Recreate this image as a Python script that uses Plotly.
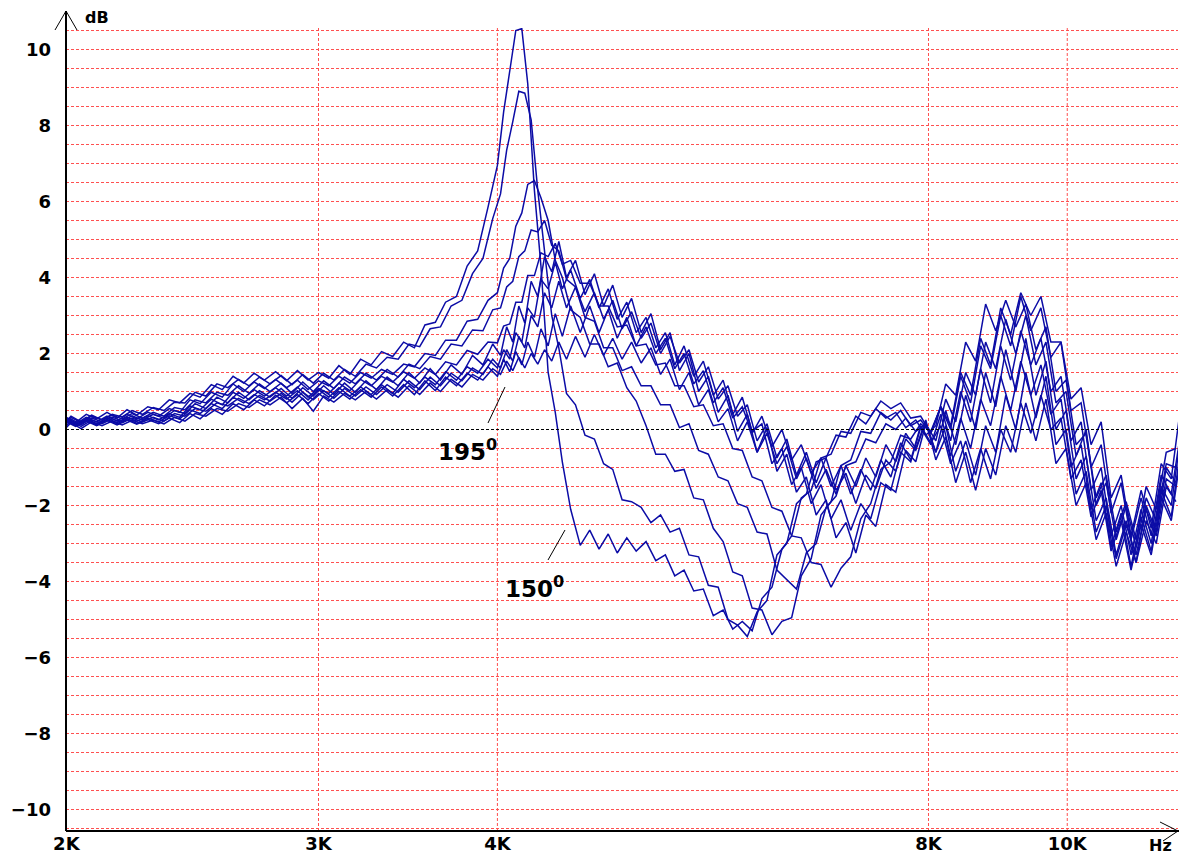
import plotly.graph_objects as go

# ---------------- data ----------------
# frequency grid used by the 150/160/170/180/190 degree curves
FREQ_A_HZ = [
    2000, 2030, 2065, 2100, 2135, 2170, 2205, 2240, 2280, 2320,
    2360, 2400, 2440, 2480, 2525, 2570, 2615, 2660, 2705, 2750,
    2800, 2850, 2900, 2950, 3000, 3050, 3100, 3155, 3210, 3265,
    3320, 3380, 3440, 3500, 3560, 3620, 3680, 3745, 3810, 3875,
    3940, 4000, 4040, 4080, 4120, 4160, 4200, 4245, 4290, 4340,
    4390, 4440, 4500, 4570, 4640, 4710, 4780, 4850, 4925, 5000,
    5080, 5160, 5240, 5320, 5400, 5485, 5570, 5660, 5750, 5840,
    5930, 6025, 6120, 6220, 6320, 6420, 6520, 6625, 6730, 6840,
    6950, 7060, 7175, 7290, 7410, 7530, 7650, 7775, 7900, 8030,
    8160, 8290, 8425, 8560, 8700, 8840, 8985, 9130, 9280, 9430,
    9585, 9740, 9900, 10060, 10225, 10390, 10560, 10730, 10905, 11080,
    11260, 11445, 11630, 11820, 12000,
]
# frequency grid used by the 155/165/175/185/195 degree curves
FREQ_B_HZ = [
    2000, 2015, 2048, 2083, 2118, 2153, 2188, 2223, 2260, 2300,
    2340, 2380, 2420, 2460, 2503, 2548, 2593, 2638, 2683, 2728,
    2775, 2825, 2875, 2925, 2975, 3025, 3075, 3128, 3183, 3238,
    3293, 3350, 3410, 3470, 3530, 3590, 3650, 3713, 3778, 3843,
    3908, 3970, 4020, 4060, 4100, 4140, 4180, 4223, 4268, 4315,
    4365, 4415, 4470, 4535, 4605, 4675, 4745, 4815, 4888, 4963,
    5040, 5120, 5200, 5280, 5360, 5443, 5528, 5615, 5705, 5795,
    5885, 5978, 6073, 6170, 6270, 6370, 6470, 6573, 6678, 6785,
    6895, 7005, 7118, 7233, 7350, 7470, 7590, 7713, 7838, 7965,
    8095, 8225, 8358, 8493, 8630, 8770, 8913, 9058, 9205, 9355,
    9508, 9663, 9820, 9980, 10143, 10308, 10475, 10645, 10818, 10993,
    11170, 11353, 11538, 11725, 11910,
]

DB_150 = [
    0.32, 0.18, 0.40, 0.28, 0.45, 0.30, 0.52, 0.38, 0.60, 0.52,
    0.78, 0.70, 0.95, 0.85, 1.18, 1.05, 1.40, 1.22, 1.48, 1.30,
    1.52, 1.28, 1.55, 1.30, 1.50, 1.35, 1.68, 1.45, 1.85, 1.70,
    2.05, 1.92, 2.30, 2.15, 2.75, 2.82, 3.35, 3.50, 4.30, 4.70,
    5.85, 6.95, 8.35, 9.45, 10.5, 10.55, 9.1, 6.3, 4.3, 1.5,
    0.45, -0.85, -2.1, -3.05, -2.65, -3.15, -2.75, -3.25, -2.85, -3.2,
    -2.95, -3.45, -3.3, -3.85, -3.7, -4.25, -4.2, -4.9, -4.75, -5.25,
    -5.05, -5.3, -4.45, -4.15, -3.15, -2.8, -1.8, -1.6, -0.75, -0.65,
    -0.05, -0.1, 0.45, 0.35, 0.75, 0.55, 0.7, 0.3, 0.35, -0.1,
    0.6, 0.1, 1.5, 0.9, 2.4, 1.7, 3.2, 2.5, 3.6, 3.0,
    3.5, 2.3, 2.3, 0.8, 1.1, -0.4, 0.2, -1.8, -1.2, -2.8,
    -1.6, -2.6, -0.9, -1.3, 0.6,
]

DB_155 = [
    0.22, 0.35, 0.20, 0.38, 0.25, 0.40, 0.33, 0.50, 0.40, 0.58,
    0.50, 0.72, 0.70, 0.98, 0.88, 1.20, 1.10, 1.32, 1.15, 1.38,
    1.20, 1.42, 1.18, 1.45, 1.22, 1.48, 1.30, 1.58, 1.40, 1.72,
    1.62, 1.90, 1.85, 2.25, 2.18, 2.65, 2.70, 3.25, 3.40, 4.10,
    4.50, 5.55, 6.20, 7.35, 8.10, 8.90, 8.85, 8.15, 6.30, 4.75,
    3.0, 2.15, 0.95, 0.65, -0.15, -0.25, -0.9, -1.05, -1.85, -1.9,
    -2.05, -2.45, -2.25, -2.7, -2.6, -3.3, -3.35, -4.1, -4.15, -5.0,
    -5.15, -5.45, -4.8, -4.5, -3.3, -3.0, -1.95, -1.7, -0.85, -0.75,
    -0.15, -0.2, 0.35, 0.15, 0.55, 0.3, 0.45, 0.05, 0.25, -0.15,
    0.1, 1.2, 0.9, 2.3, 1.8, 3.3, 2.6, 3.4, 2.7, 3.3,
    2.1, 2.7, 1.0, 1.3, -0.4, -0.1, -1.8, -1.2, -2.7, -1.9,
    -2.9, -1.5, -2.1, -0.6, -0.5,
]

DB_160 = [
    0.30, 0.15, 0.32, 0.20, 0.35, 0.22, 0.40, 0.28, 0.45, 0.35,
    0.55, 0.45, 0.78, 0.68, 0.98, 0.85, 1.20, 1.00, 1.25, 1.08,
    1.32, 1.10, 1.30, 1.05, 1.28, 1.15, 1.40, 1.22, 1.50, 1.35,
    1.58, 1.45, 1.72, 1.65, 2.00, 1.95, 2.35, 2.35, 2.85, 2.90,
    3.40, 3.60, 4.25, 4.50, 5.35, 5.70, 6.45, 6.55, 6.10, 5.50,
    4.45, 4.00, 3.15, 2.95, 2.25, 2.25, 1.65, 1.75, 1.10, 0.75,
    0.10, -0.65, -0.65, -1.10, -1.05, -1.80, -1.85, -2.60, -2.95, -3.75,
    -3.85, -4.70, -4.75, -5.40, -5.05, -4.95, -3.85, -3.40, -2.25, -1.90,
    -0.95, -0.80, -0.05, -0.10, 0.45, 0.25, 0.50, 0.10, 0.25, -0.10,
    0.6, 0.0, 1.4, 0.7, 2.2, 1.6, 3.0, 2.2, 3.5, 2.6,
    3.2, 1.9, 2.3, 0.5, 0.7, -1.0, -0.4, -2.2, -1.4, -2.9,
    -1.8, -2.8, -1.2, -1.7, -0.1,
]

DB_165 = [
    0.20, 0.32, 0.18, 0.35, 0.25, 0.38, 0.28, 0.42, 0.30, 0.45,
    0.35, 0.58, 0.52, 0.78, 0.70, 0.98, 0.90, 1.15, 0.95, 1.20,
    1.00, 1.22, 0.95, 1.25, 1.00, 1.28, 1.08, 1.38, 1.20, 1.48,
    1.30, 1.58, 1.38, 1.72, 1.60, 1.92, 1.85, 2.25, 2.20, 2.62,
    2.60, 3.15, 3.20, 3.75, 3.90, 4.55, 4.70, 5.25, 5.20, 5.50,
    4.85, 4.70, 3.95, 3.75, 2.95, 2.85, 2.15, 2.15, 1.55, 1.65,
    1.15, 1.15, 0.65, 0.65, 0.05, 0.15, -0.55, -0.65, -1.25, -1.35,
    -1.95, -2.05, -2.70, -2.75, -3.70, -3.95, -4.20, -3.25, -3.00, -2.05,
    -1.75, -0.95, -0.85, -0.25, -0.35, 0.15, 0.00, 0.30, -0.05, 0.15,
    -0.3, 0.8, 0.2, 1.5, 0.9, 2.3, 1.6, 2.9, 2.0, 3.0,
    1.7, 2.3, 0.7, 1.0, -0.7, 0.0, -2.0, -1.4, -2.9, -2.0,
    -3.1, -1.8, -2.4, -0.9, -1.0,
]

DB_170 = [
    0.25, 0.12, 0.28, 0.15, 0.30, 0.18, 0.32, 0.22, 0.36, 0.25,
    0.42, 0.32, 0.62, 0.52, 0.80, 0.65, 0.98, 0.82, 1.05, 0.88,
    1.10, 0.88, 1.12, 0.85, 1.08, 0.95, 1.22, 1.02, 1.32, 1.15,
    1.40, 1.25, 1.52, 1.35, 1.62, 1.45, 1.78, 1.70, 2.08, 1.98,
    2.30, 2.28, 2.72, 2.78, 3.35, 3.35, 4.05, 4.05, 4.65, 4.55,
    4.90, 4.35, 4.45, 3.85, 3.85, 3.25, 3.25, 2.70, 2.75, 2.20,
    2.25, 1.70, 1.75, 1.15, 1.15, 0.60, 0.65, 0.10, 0.15, -0.50,
    -0.55, -1.25, -1.35, -2.05, -2.15, -2.80, -2.85, -3.50, -3.55, -4.15,
    -3.65, -3.35, -2.35, -1.95, -1.05, -0.85, -0.15, -0.25, 0.15, -0.05,
    0.6, -0.3, 1.0, 0.2, 1.6, 0.7, 2.2, 1.3, 2.6, 1.7,
    2.4, 1.0, 1.4, -0.3, 0.2, -1.6, -1.0, -2.8, -2.0, -3.3,
    -2.1, -3.0, -1.5, -2.0, -0.2,
]

DB_175 = [
    0.15, 0.28, 0.12, 0.30, 0.20, 0.33, 0.22, 0.36, 0.25, 0.40,
    0.30, 0.50, 0.42, 0.68, 0.55, 0.85, 0.70, 0.98, 0.78, 1.02,
    0.85, 1.08, 0.82, 1.10, 0.88, 1.15, 0.92, 1.22, 0.98, 1.28,
    1.05, 1.38, 1.15, 1.50, 1.22, 1.60, 1.30, 1.70, 1.45, 1.95,
    1.70, 2.25, 1.95, 2.70, 2.30, 3.25, 2.80, 3.90, 3.50, 4.55,
    4.15, 4.95, 4.00, 4.45, 3.55, 4.10, 3.25, 3.80, 2.95, 3.45,
    2.55, 3.05, 2.10, 2.55, 1.55, 2.00, 1.00, 1.40, 0.45, 0.90,
    -0.05, 0.40, -0.60, 0.05, -1.10, -0.65, -1.65, -1.25, -2.25, -1.85,
    -2.85, -2.45, -3.25, -2.25, -2.55, -1.45, -1.65, -0.55, -0.85, 0.15,
    -0.6, 0.5, -0.4, 0.9, 0.0, 1.5, 0.6, 2.1, 1.0, 2.4,
    0.9, 1.8, 0.0, 0.5, -1.3, -0.7, -2.4, -1.8, -3.3, -2.4,
    -3.5, -2.0, -2.7, -1.0, -1.4,
]

DB_180 = [
    0.22, 0.10, 0.25, 0.12, 0.26, 0.15, 0.28, 0.16, 0.30, 0.20,
    0.36, 0.28, 0.52, 0.42, 0.68, 0.55, 0.85, 0.70, 0.92, 0.78,
    0.98, 0.80, 1.02, 0.78, 1.05, 0.85, 1.10, 0.88, 1.12, 0.92,
    1.18, 0.95, 1.32, 1.10, 1.38, 1.18, 1.52, 1.30, 1.65, 1.48,
    1.85, 1.62, 2.10, 1.85, 2.55, 2.30, 3.20, 2.95, 3.95, 3.70,
    4.40, 3.70, 4.20, 3.45, 3.95, 3.20, 3.70, 2.90, 3.35, 2.55,
    2.95, 2.15, 2.55, 1.70, 2.20, 1.40, 1.80, 0.90, 1.30, 0.40,
    0.85, -0.05, 0.15, -0.90, -0.50, -1.45, -1.00, -1.95, -1.45, -2.35,
    -1.85, -2.65, -1.95, -2.35, -1.40, -1.60, -0.60, -0.85, 0.05, -0.40,
    0.4, -0.7, 0.3, -0.5, 0.8, 0.1, 1.4, 0.5, 1.8, 0.9,
    1.7, 0.4, 0.8, -1.0, -0.4, -2.1, -1.4, -3.1, -2.2, -3.6,
    -2.3, -3.2, -1.6, -2.3, -0.5,
]

DB_185 = [
    0.10, 0.22, 0.08, 0.25, 0.15, 0.28, 0.18, 0.30, 0.20, 0.32,
    0.22, 0.42, 0.35, 0.55, 0.48, 0.70, 0.62, 0.82, 0.68, 0.90,
    0.75, 0.95, 0.72, 0.98, 0.78, 1.02, 0.82, 1.08, 0.88, 1.12,
    0.92, 1.18, 0.98, 1.28, 1.05, 1.38, 1.15, 1.48, 1.28, 1.62,
    1.45, 1.85, 1.62, 2.10, 1.80, 2.45, 2.15, 3.00, 2.70, 3.60,
    3.20, 3.90, 3.20, 3.75, 3.10, 3.60, 2.90, 3.40, 2.65, 3.10,
    2.40, 2.80, 2.00, 2.45, 1.75, 2.10, 1.25, 1.65, 0.80, 1.15,
    0.35, 0.65, -0.30, 0.15, -0.75, -0.25, -1.20, -0.60, -1.40, -0.75,
    -1.60, -1.15, -1.95, -1.20, -1.55, -0.80, -1.10, -0.25, -0.55, 0.20,
    -0.6, 0.1, -1.1, -0.3, -1.2, 0.1, -0.6, 0.9, 0.0, 1.5,
    0.3, 1.4, -0.4, 0.0, -1.7, -1.1, -2.7, -2.0, -3.4, -2.5,
    -3.3, -2.1, -2.8, -1.3, -1.5,
]

DB_190 = [
    0.20, 0.08, 0.22, 0.10, 0.24, 0.12, 0.25, 0.14, 0.26, 0.15,
    0.30, 0.18, 0.42, 0.28, 0.55, 0.40, 0.68, 0.52, 0.78, 0.62,
    0.90, 0.70, 0.92, 0.68, 0.95, 0.75, 1.00, 0.80, 1.05, 0.85,
    1.12, 0.88, 1.18, 0.92, 1.28, 1.02, 1.38, 1.15, 1.48, 1.30,
    1.65, 1.40, 1.85, 1.52, 2.05, 1.70, 2.30, 1.90, 2.65, 2.20,
    3.05, 2.45, 3.25, 2.55, 3.25, 2.55, 3.15, 2.40, 2.95, 2.20,
    2.70, 2.00, 2.40, 1.60, 2.00, 1.20, 1.55, 0.70, 1.10, 0.30,
    0.60, -0.10, 0.35, -0.45, 0.00, -0.80, -0.40, -1.15, -0.75, -1.50,
    -0.95, -1.70, -1.05, -1.60, -0.80, -1.25, -0.35, -0.80, 0.10, -0.35,
    0.1, -0.9, -0.3, -1.4, -0.5, -1.3, 0.0, -0.6, 0.7, -0.1,
    0.9, 0.0, 0.3, -1.3, -0.8, -2.3, -1.6, -3.2, -2.4, -3.7,
    -2.5, -3.3, -1.8, -2.4, -0.7,
]

DB_195 = [
    0.05, 0.18, 0.02, 0.20, 0.10, 0.22, 0.12, 0.24, 0.15, 0.25,
    0.15, 0.32, 0.22, 0.42, 0.35, 0.55, 0.48, 0.68, 0.58, 0.78,
    0.65, 0.85, 0.55, 0.82, 0.48, 0.88, 0.72, 0.95, 0.78, 1.00,
    0.80, 1.05, 0.85, 1.15, 0.92, 1.22, 1.00, 1.32, 1.12, 1.45,
    1.30, 1.60, 1.45, 1.80, 1.55, 1.90, 1.62, 2.00, 1.72, 2.10,
    1.80, 2.30, 1.85, 2.45, 1.90, 2.50, 1.95, 2.40, 1.85, 2.30,
    1.75, 2.15, 1.45, 1.85, 1.05, 1.50, 0.65, 1.05, 0.20, 0.55,
    -0.30, 0.20, -0.60, -0.10, -0.90, -0.45, -1.30, -0.75, -1.55, -1.05,
    -1.70, -0.95, -1.50, -0.75, -1.25, -0.40, -0.85, -0.10, -0.50, 0.25,
    -0.8, -0.2, -1.4, -0.6, -1.6, -0.5, -1.2, 0.1, -0.6, 0.7,
    -0.3, 0.8, -0.9, -0.5, -2.0, -1.4, -2.9, -2.2, -3.6, -2.7,
    -3.5, -2.4, -3.0, -1.5, -1.9,
]

SERIES = [
    ("150°", FREQ_A_HZ, DB_150), ("155°", FREQ_B_HZ, DB_155),
    ("160°", FREQ_A_HZ, DB_160), ("165°", FREQ_B_HZ, DB_165),
    ("170°", FREQ_A_HZ, DB_170), ("175°", FREQ_B_HZ, DB_175),
    ("180°", FREQ_A_HZ, DB_180), ("185°", FREQ_B_HZ, DB_185),
    ("190°", FREQ_A_HZ, DB_190), ("195°", FREQ_B_HZ, DB_195),
]

X_TICK_VALS = [2000, 3000, 4000, 8000, 10000]
X_TICK_TEXT = ["2K", "3K", "4K", "8K", "10K"]
X_GRID_VALS = [3000, 4000, 8000, 10000]
Y_GRID_VALS = [v / 2 for v in range(-21, 22)]
Y_TICK_VALS = [-10, -8, -6, -4, -2, 0, 2, 4, 6, 8, 10]
Y_TICK_TEXT = ["−10", "−8", "−6", "−4", "−2", "0", "2", "4", "6", "8", "10"]

# ---------------- styling ----------------
LINE_COLOR = "#0c0ca6"
GRID_COLOR = "#ff5050"
GRID_DASH = "3px,2px"
FONT = "DejaVu Sans"

W, H = 1179, 854
ML, MR, MT, MB = 66, 1, 28, 23       # plot area 1112 x 803 px (38 px per dB)
X_RANGE = [3.300793, 4.077329]        # ~2 kHz .. ~11.95 kHz (log10), 1432 px/decade
Y_RANGE = [-10.565789, 10.565789]


def px(xp):   # page x pixel -> paper x
    return (xp - ML) / (W - ML - MR)


def py(yp):   # page y pixel -> paper y
    return (H - MB - yp) / (H - MT - MB)


fig = go.Figure()

# dotted red grid
for v in Y_GRID_VALS:
    fig.add_shape(type="line", xref="paper", yref="y", x0=0, x1=1, y0=v, y1=v,
                  line=dict(color=GRID_COLOR, width=1, dash=GRID_DASH), layer="below")
for f in X_GRID_VALS:
    fig.add_shape(type="line", xref="x", yref="paper", x0=f, x1=f, y0=0, y1=1,
                  line=dict(color=GRID_COLOR, width=1, dash=GRID_DASH), layer="below")

for name, fx, vals in SERIES:
    fig.add_trace(go.Scatter(
        x=fx, y=vals, mode="lines", name=name,
        line=dict(color=LINE_COLOR, width=1.5),
        showlegend=False, hoverinfo="skip",
    ))

# zero line (black, dashed)
fig.add_shape(type="line", xref="paper", yref="y", x0=0, x1=1, y0=0, y1=0,
              line=dict(color="black", width=1, dash="3px,2px"), layer="above")

# axes, extensions and arrow heads
ax_col = "black"
axis_lines = [
    ((66, 831), (66, 11), 2),
    ((55, 30), (66, 11), 1),
    ((77, 30), (66, 11), 1),
    ((66, 831), (1179, 831), 2),
    ((1160, 822), (1178, 831), 1),
    ((1163, 841), (1178, 831), 1),
]
for (xa, ya), (xb, yb), w in axis_lines:
    fig.add_shape(type="line", xref="paper", yref="paper",
                  x0=px(xa), y0=py(ya), x1=px(xb), y1=py(yb),
                  line=dict(color=ax_col, width=w))

# pointer lines for the angle labels
for (xa, ya), (xb, yb) in [((488, 423), (505, 387)), ((548, 560), (565, 530))]:
    fig.add_shape(type="line", xref="paper", yref="paper",
                  x0=px(xa), y0=py(ya), x1=px(xb), y1=py(yb),
                  line=dict(color="black", width=1))

lab_font = dict(family=FONT, size=23, color="black", weight="bold")
unit_font = dict(family=FONT, size=16, color="black", weight="bold")
texts = [
    ("195<sup>0</sup>", 467, 450, lab_font),
    ("150<sup>0</sup>", 534, 587, lab_font),
    ("dB", 97, 18, unit_font),
    ("Hz", 1160, 845, unit_font),
]
for txt, xp, yp, fnt in texts:
    fig.add_annotation(xref="paper", yref="paper", x=px(xp), y=py(yp), text=txt,
                       xanchor="center", yanchor="middle", showarrow=False, font=fnt)

tick_font = dict(family=FONT, size=18, color="black", weight="bold")
fig.update_layout(
    width=W, height=H,
    margin=dict(l=ML, r=MR, t=MT, b=MB, pad=0),
    paper_bgcolor="white", plot_bgcolor="white",
    showlegend=False,
    xaxis=dict(
        type="log", range=X_RANGE,
        tickvals=X_TICK_VALS, ticktext=X_TICK_TEXT, tickfont=tick_font,
        showgrid=False, zeroline=False, showline=False, ticks="", automargin=False,
        ticklabelstandoff=0,
    ),
    yaxis=dict(
        range=Y_RANGE,
        tickvals=Y_TICK_VALS, ticktext=Y_TICK_TEXT, tickfont=tick_font,
        showgrid=False, zeroline=False, showline=False, ticks="", automargin=False,
        ticklabelstandoff=14,
    ),
)

fig.write_html(
    "out.html",
    config={"displayModeBar": False},
    post_script="document.body.style.margin='0';document.documentElement.style.overflow='hidden';",
)
